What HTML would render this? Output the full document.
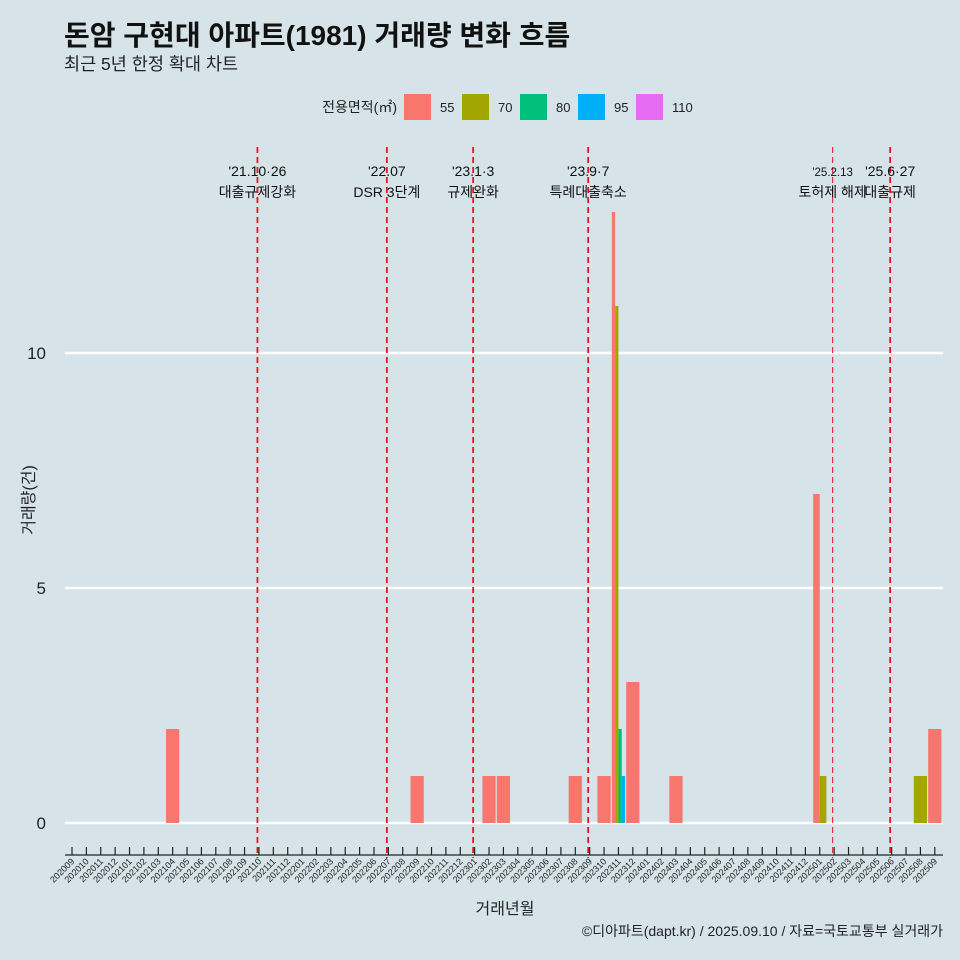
<!DOCTYPE html>
<html><head><meta charset="utf-8">
<style>
html,body{margin:0;padding:0;background:#d6e4ea;}
svg{display:block;font-family:"Liberation Sans","Noto Sans CJK KR",sans-serif;}
</style></head>
<body>
<svg id="chart" width="960" height="960" viewBox="0 0 960 960">
<rect width="960" height="960" fill="#d6e4ea"/>
<text x="64" y="45" font-size="28" font-weight="bold" fill="#111">돈암 구현대 아파트(1981) 거래량 변화 흐름</text>
<text x="64" y="70" font-size="17.5" fill="#222">최근 5년 한정 확대 차트</text>
<text x="505" y="914" font-size="16" text-anchor="middle" fill="#222">거래년월</text>
<text x="0" y="0" font-size="16" text-anchor="middle" fill="#222" transform="translate(34,500) rotate(-90)">거래량(건)</text>
<text x="943" y="936" font-size="14" text-anchor="end" fill="#222">©디아파트(dapt.kr) / 2025.09.10 / 자료=국토교통부 실거래가</text>
<g id="legend">
<text x="397" y="112" font-size="14" text-anchor="end" fill="#222">전용면적(㎡)</text>
</g>
<g id="grid"></g><g id="bars"></g><g id="vlines"></g><g id="xaxis"></g>
</svg>
<script>
const months = [];
for (let y = 2020; y <= 2025; y++) for (let m = 1; m <= 12; m++) {
  const k = y * 100 + m; if (k >= 202009 && k <= 202509) months.push(String(k));
}
const groups = ["55","70","80","95","110"];
const colors = ["#F8766D","#A3A500","#00BF7D","#00B0F6","#E76BF3"];
const barMonths = ["202104","202209","202302","202303","202308","202310","202311","202311","202311","202311","202312","202403","202501","202501","202508","202509"];
const barGroups = ["55","55","55","55","55","55","55","70","80","95","55","55","55","70","70","55"];
const barValues = [2,1,1,1,1,1,13,11,2,1,3,1,7,1,1,2];
const yTicks = [0,5,10];
const eventMonths = ["202110","202207","202301","202309","202502","202506"];
const eventLine1 = ["'21.10·26","'22.07","'23.1·3","'23.9·7","'25.2.13","'25.6·27"];
const eventLine2 = ["대출규제강화","DSR 3단계","규제완화","특례대출축소","토허제 해제","대출규제"];

const NS = "http://www.w3.org/2000/svg";
function mk(tag, attrs, parent, text) {
  const e = document.createElementNS(NS, tag);
  for (const k in attrs) e.setAttribute(k, attrs[k]);
  if (text !== undefined) e.textContent = text;
  parent.appendChild(e); return e;
}
const X0 = 72, STEP = 14.38, Y0 = 823, PPU = 47;
const xPos = i => X0 + i * STEP;
const yPos = v => Y0 - v * PPU;

const lg = document.getElementById('legend');
const lx = [404,462,520,578,636];
groups.forEach((g, i) => {
  const r = mk('rect', {x: lx[i], y: 94, width: 27, height: 26, fill: colors[i]}, lg);
  
  
  const t = mk('text', {x: lx[i] + 36, y: 112, 'font-size': 13, fill: '#222'}, lg, g);
  
  
});

const grid = document.getElementById('grid');
yTicks.forEach(v => {
  const l = mk('line', {x1: 65, x2: 943, y1: yPos(v), y2: yPos(v), stroke: '#fff', 'stroke-width': 2.4}, grid);
  
  
  const t = mk('text', {x: 46, y: yPos(v) + 6, 'font-size': 17, 'text-anchor': 'end', fill: '#222'}, grid, String(v));
  
  
});

const bars = document.getElementById('bars');
const W = STEP * 0.92;
barValues.forEach((v, i) => {
  const m = barMonths[i];
  const same = [];
  barMonths.forEach((mm, j) => { if (mm === m) same.push(j); });
  const n = same.length, k = same.indexOf(i);
  const cx = xPos(months.indexOf(m));
  const w = W / n;
  const x = cx - W / 2 + k * w;
  const r = mk('rect', {x: x, y: yPos(v), width: w, height: v * PPU, fill: colors[groups.indexOf(barGroups[i])]}, bars);
  
  
});

const vl = document.getElementById('vlines');
eventMonths.forEach((m, i) => {
  const x = xPos(months.indexOf(m)) - 1.5;
  const thin = m === "202502";
  const l = mk('line', {x1: x, x2: x, y1: 147, y2: 858, stroke: '#e8141e', 'stroke-width': thin ? 1 : 1.8, 'stroke-dasharray': '6,4'}, vl);
  
  
  const fs = thin ? 11.5 : 14;
  const t1 = mk('text', {x: x, y: 176, 'font-size': fs, 'text-anchor': 'middle', fill: '#111'}, vl, eventLine1[i]);
  
  
  const t2 = mk('text', {x: x, y: 197, 'font-size': 14, 'text-anchor': 'middle', fill: '#111'}, vl, eventLine2[i]);
  
  
});

const xa = document.getElementById('xaxis');
const al = mk('line', {x1: 65, x2: 943, y1: 855, y2: 855, stroke: '#222', 'stroke-width': 1.2}, xa);


months.forEach((m, i) => {
  const x = xPos(i);
  const tk = mk('line', {x1: x, x2: x, y1: 847, y2: 855, stroke: '#222', 'stroke-width': 1.2}, xa);
  
  
  const t = mk('text', {x: 0, y: 0, 'font-size': 9, 'text-anchor': 'end', fill: '#222', transform: 'translate(' + (x + 3) + ',862) rotate(-45)'}, xa, m);
  
  
});
</script>
</body></html>
